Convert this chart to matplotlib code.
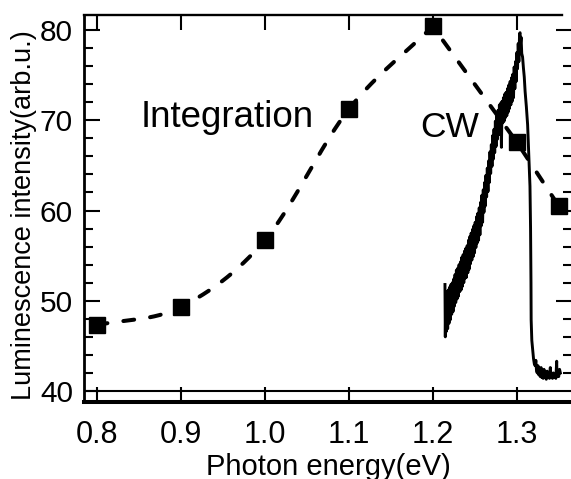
import numpy as np
import matplotlib
matplotlib.use('Agg')
import matplotlib.pyplot as plt

plt.rcParams['font.family'] = ['Liberation Sans', 'DejaVu Sans']

# ---------------- data ----------------
int_energy = [0.80, 0.90, 1.00, 1.10, 1.20, 1.30, 1.35]
int_intensity = [47.3, 49.3, 56.7, 71.2, 80.4, 67.6, 60.5]

cw_energy = [
    1.2146, 1.2150, 1.2156, 1.2162, 1.2170, 1.2178, 1.2186, 1.2194, 1.2202, 1.2210,
    1.2218, 1.2226, 1.2234, 1.2242, 1.2250, 1.2258, 1.2266, 1.2274, 1.2282, 1.2290,
    1.2298, 1.2306, 1.2314, 1.2322, 1.2330, 1.2338, 1.2346, 1.2354, 1.2362, 1.2370,
    1.2378, 1.2386, 1.2394, 1.2402, 1.2410, 1.2418, 1.2426, 1.2434, 1.2442, 1.2450,
    1.2458, 1.2466, 1.2474, 1.2482, 1.2490, 1.2498, 1.2506, 1.2514, 1.2522, 1.2530,
    1.2538, 1.2546, 1.2554, 1.2562, 1.2570, 1.2578, 1.2586, 1.2594, 1.2602, 1.2610,
    1.2618, 1.2626, 1.2634, 1.2642, 1.2650, 1.2658, 1.2666, 1.2674, 1.2682, 1.2690,
    1.2698, 1.2706, 1.2714, 1.2722, 1.2730, 1.2738, 1.2746, 1.2754, 1.2762, 1.2770,
    1.2778, 1.2786, 1.2794, 1.2802, 1.2810, 1.2818, 1.2826, 1.2834, 1.2842, 1.2850,
    1.2858, 1.2866, 1.2874, 1.2882, 1.2890, 1.2898, 1.2906, 1.2914, 1.2922, 1.2930,
    1.2938, 1.2946, 1.2954, 1.2962, 1.2970, 1.2978, 1.2986, 1.2994, 1.3002, 1.3010,
    1.3018, 1.3026, 1.3034, 1.3040, 1.3046, 1.3052, 1.3060, 1.3070, 1.3080, 1.3090,
    1.3100, 1.3115, 1.3130, 1.3145, 1.3158, 1.3165, 1.3170, 1.3172, 1.3180, 1.3190,
    1.3200, 1.3210, 1.3220, 1.3228, 1.3236, 1.3245, 1.3254, 1.3262, 1.3270, 1.3280,
    1.3290, 1.3298, 1.3306, 1.3315, 1.3325, 1.3334, 1.3344, 1.3352, 1.3362, 1.3372,
    1.3380, 1.3390, 1.3400, 1.3408, 1.3416, 1.3426, 1.3436, 1.3446, 1.3456, 1.3466,
    1.3476, 1.3480, 1.3490, 1.3500, 1.3510, 1.3520,
]
cw_intensity = [
    51.8, 46.0, 51.0, 46.6, 50.8, 46.9, 51.2, 47.5, 51.5, 47.9,
    51.8, 48.5, 52.0, 48.8, 52.4, 49.4, 52.9, 49.8, 53.4, 50.2,
    53.6, 50.5, 54.0, 51.0, 54.3, 51.2, 54.8, 51.6, 55.1, 52.0,
    55.5, 52.5, 55.8, 52.6, 56.1, 53.1, 56.7, 53.5, 57.1, 54.1,
    57.5, 54.5, 57.9, 54.9, 58.3, 55.3, 58.7, 55.9, 59.3, 56.4,
    59.7, 56.7, 60.3, 57.3, 60.9, 58.3, 61.7, 58.7, 62.3, 59.8,
    63.1, 60.5, 63.9, 61.5, 64.7, 62.1, 65.5, 63.1, 66.5, 64.1,
    67.3, 64.9, 68.3, 65.7, 69.0, 66.4, 69.9, 67.1, 70.5, 67.9,
    71.1, 68.4, 71.7, 68.9, 71.9, 67.0, 72.1, 69.7, 72.5, 69.9,
    72.9, 70.3, 73.1, 70.5, 73.5, 70.9, 73.9, 71.3, 74.3, 71.7,
    74.7, 72.1, 75.1, 72.5, 75.9, 73.5, 76.5, 74.3, 77.5, 75.7,
    78.5, 76.5, 79.6, 79.7, 78.6, 79.2, 77.4, 77.0, 75.8, 74.8,
    73.2, 71.5, 69.5, 66.0, 62.7, 58.0, 52.0, 47.9, 45.6, 44.6,
    43.6, 43.0, 42.8, 43.4, 42.2, 42.0, 42.8, 41.8, 42.3, 41.6,
    42.6, 41.5, 42.0, 41.4, 42.4, 41.6, 41.9, 41.3, 42.2, 41.5,
    41.9, 41.4, 42.6, 41.6, 41.8, 41.4, 42.0, 41.5, 41.7, 41.4,
    43.3, 41.6, 41.9, 41.6, 42.4, 42.0,
]

x_ticks = [0.8, 0.9, 1.0, 1.1, 1.2, 1.3]
x_tick_labels = ["0.8", "0.9", "1.0", "1.1", "1.2", "1.3"]
y_ticks = [40, 50, 60, 70, 80]
y_tick_labels = ["40", "50", "60", "70", "80"]
y_minor_ticks = [42, 44, 46, 48, 52, 54, 56, 58, 62, 64, 66, 68, 72, 74, 76, 78]

x_label = "Photon energy(eV)"
y_label = "Luminescence intensity(arb.u.)"


# Hermite curve through the integration points: Catmull-Rom tangents on the
# rising side, one-sided chord tangents (corners) from the maximum onwards.
def guide_curve(xs, ys, n=60):
    xs = np.asarray(xs, float)
    ys = np.asarray(ys, float)
    N = len(xs)
    chord = np.diff(ys) / np.diff(xs)
    ipk = int(np.argmax(ys))
    mL = np.zeros(N)
    mR = np.zeros(N)
    mR[0] = chord[0]
    mL[-1] = chord[-1]
    for i in range(1, N - 1):
        if i < ipk:
            m = (ys[i + 1] - ys[i - 1]) / (xs[i + 1] - xs[i - 1])
            mL[i] = mR[i] = m
        else:
            mL[i] = chord[i - 1]
            mR[i] = chord[i]
    out_x, out_y = [], []
    for i in range(N - 1):
        h = xs[i + 1] - xs[i]
        t = np.linspace(0, 1, n, endpoint=(i == N - 2))
        h00 = 2 * t**3 - 3 * t**2 + 1
        h10 = t**3 - 2 * t**2 + t
        h01 = -2 * t**3 + 3 * t**2
        h11 = t**3 - t**2
        out_x.append(xs[i] + t * h)
        out_y.append(h00 * ys[i] + h10 * h * mR[i] + h01 * ys[i + 1] + h11 * h * mL[i + 1])
    return np.concatenate(out_x), np.concatenate(out_y)


fig = plt.figure(figsize=(5.71, 4.79), dpi=100)
ax = fig.add_axes([0.14711, 0.16075, 0.85464, 0.80793])

xlim0, xlim1 = 0.78488, 1.36583
ax.set_xlim(xlim0, xlim1)
ax.set_ylim(38.781, 81.662)

sx, sy = guide_curve(int_energy, int_intensity)
ax.plot(sx, sy, color='black', lw=2.9, dashes=(2.7, 4.0), dash_capstyle='round', zorder=3)
ax.plot(cw_energy, cw_intensity, color='black', lw=2.1, zorder=2)
ax.plot(int_energy, int_intensity, linestyle='none', marker='s', ms=12,
        color='black', mec='black', zorder=4, clip_on=False)

ax.axhline(40, xmin=0, xmax=0.965, color='black', lw=1.5, zorder=1)

ax.set_xticks(x_ticks, x_tick_labels)
ax.set_yticks(y_ticks, y_tick_labels)
ax.set_yticks(y_minor_ticks, minor=True)
ax.tick_params(axis='x', which='major', direction='in', top=True, bottom=True,
               length=10.8, width=1.5, labelsize=22, pad=13)
ax.tick_params(axis='y', which='major', direction='in', left=True, right=True,
               length=11.5, width=1.5, labelsize=21.5, pad=8)
ax.tick_params(axis='y', which='minor', direction='in', left=True, right=True,
               length=6.5, width=1.5)

ax.spines['left'].set_linewidth(2.0)
ax.spines['bottom'].set_linewidth(2.9)
ax.spines['top'].set_linewidth(1.7)
ax.spines['right'].set_linewidth(2.0)
ax.spines['top'].set_bounds(xlim0, 1.354)

ax.set_xlabel(x_label, fontsize=21)
ax.xaxis.set_label_coords(0.5, -0.1886)
ax.xaxis.label.set_va('baseline')
ax.set_ylabel(y_label, fontsize=19.5)
ax.yaxis.set_label_coords(-0.122, 0.483)
ax.yaxis.label.set_va('center')

ax.text(0.8520, 69.29, 'Integration', fontsize=26.5, ha='left', va='baseline')
ax.text(1.1849, 68.18, 'CW', fontsize=25.5, ha='left', va='baseline')

fig.savefig('out.png', dpi=100)
